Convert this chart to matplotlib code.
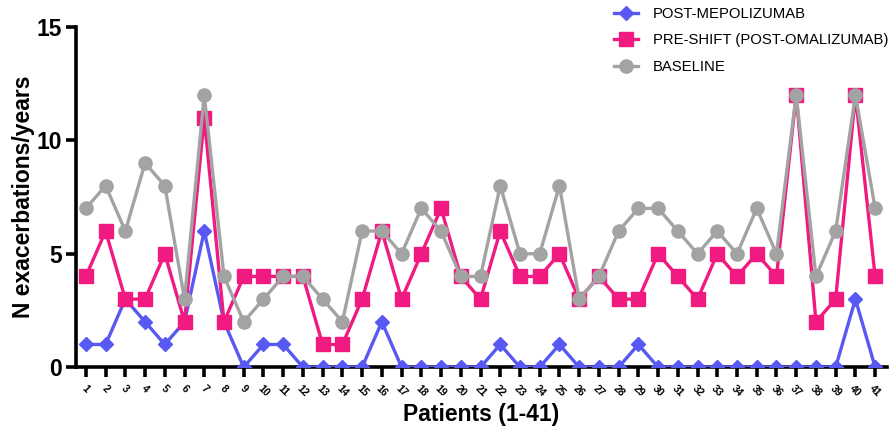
import matplotlib.pyplot as plt
from matplotlib.lines import Line2D

plt.rcParams['font.family'] = ['Liberation Sans', 'DejaVu Sans']

patients = list(range(1, 42))

# exacerbations per year
post_mepolizumab = [1, 1, 3, 2, 1, 2, 6, 2, 0, 1, 1, 0, 0, 0, 0, 2, 0, 0, 0, 0,
                    0, 1, 0, 0, 1, 0, 0, 0, 1, 0, 0, 0, 0, 0, 0, 0, 0, 0, 0, 3, 0]
pre_shift = [4, 6, 3, 3, 5, 2, 11, 2, 4, 4, 4, 4, 1, 1, 3, 6, 3, 5, 7, 4,
             3, 6, 4, 4, 5, 3, 4, 3, 3, 5, 4, 3, 5, 4, 5, 4, 12, 2, 3, 12, 4]
baseline = [7, 8, 6, 9, 8, 3, 12, 4, 2, 3, 4, 4, 3, 2, 6, 6, 5, 7, 6, 4,
            4, 8, 5, 5, 8, 3, 4, 6, 7, 7, 6, 5, 6, 5, 7, 5, 12, 4, 6, 12, 7]

labels = ['POST-MEPOLIZUMAB', 'PRE-SHIFT (POST-OMALIZUMAB)', 'BASELINE']
blue = '#5858f2'
pink = '#f01a80'
grey = '#a3a3a3'

fig = plt.figure(figsize=(8.9, 4.34), dpi=100)
ax = fig.add_axes([0.0854, 0.154, 0.9112, 0.784])

ax.plot(patients, post_mepolizumab, color=blue, lw=2.4, marker='D', ms=7.5, zorder=3)
ax.plot(patients, pre_shift, color=pink, lw=2.4, marker='s', ms=9.5, zorder=4)
ax.plot(patients, baseline, color=grey, lw=2.4, marker='o', ms=9.5, zorder=5)

ax.set_xlim(0.5, 41.6)
ax.set_ylim(0, 15)
ax.set_yticks([0, 5, 10, 15])
ax.set_xticks(patients)
ax.set_xticklabels([str(p) for p in patients], rotation=-45, ha='center',
                   va='top', fontsize=7.5, fontweight='bold')
for t in ax.get_yticklabels():
    t.set_fontsize(16.5)
    t.set_fontweight('bold')

for s in ['top', 'right']:
    ax.spines[s].set_visible(False)
for s in ['left', 'bottom']:
    ax.spines[s].set_linewidth(2.6)
ax.tick_params(axis='both', direction='out', width=2.6, length=7, color='black')
ax.tick_params(axis='x', pad=5)
ax.tick_params(axis='y', pad=3)

ax.set_ylabel('N exacerbations/years', fontsize=16.5, fontweight='bold', labelpad=1)
ax.set_xlabel('Patients (1-41)', fontsize=16.5, fontweight='bold', labelpad=3)

handles = [
    Line2D([], [], color=blue, lw=2.4, marker='D', ms=7.5),
    Line2D([], [], color=pink, lw=2.4, marker='s', ms=9.5),
    Line2D([], [], color=grey, lw=2.4, marker='o', ms=9.5),
]
fig.legend(handles, labels, loc='upper left', bbox_to_anchor=(0.675, 1.015),
           frameon=False, fontsize=10.7, handlelength=1.6, labelspacing=0.85,
           handletextpad=1.0)

fig.savefig('out.png', dpi=100)
